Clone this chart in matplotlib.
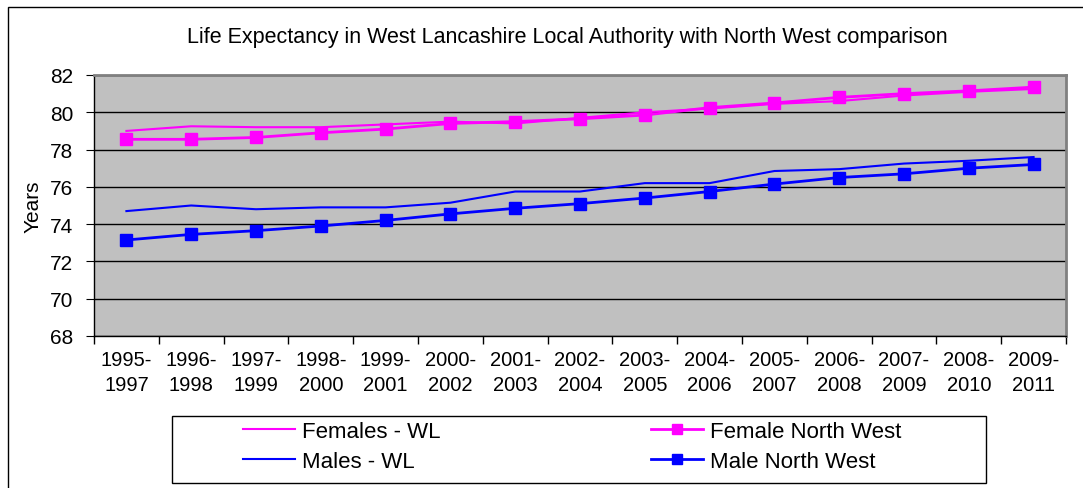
import matplotlib
matplotlib.use('Agg')
from matplotlib import pyplot as plt
from matplotlib.patches import Rectangle
import numpy as np

plt.rcParams['font.family'] = ['Liberation Sans', 'DejaVu Sans']

periods = ['1995-\n1997', '1996-\n1998', '1997-\n1999', '1998-\n2000', '1999-\n2001',
           '2000-\n2002', '2001-\n2003', '2002-\n2004', '2003-\n2005', '2004-\n2006',
           '2005-\n2007', '2006-\n2008', '2007-\n2009', '2008-\n2010', '2009-\n2011']

females_wl = [79.0, 79.25, 79.2, 79.2, 79.35, 79.5, 79.4, 79.7, 80.0, 80.2,
              80.45, 80.6, 80.9, 81.1, 81.25]
female_nw = [78.55, 78.55, 78.65, 78.9, 79.1, 79.4, 79.5, 79.65, 79.85, 80.25,
             80.5, 80.8, 81.0, 81.15, 81.35]
males_wl = [74.7, 75.0, 74.8, 74.9, 74.9, 75.15, 75.75, 75.75, 76.2, 76.2,
            76.85, 76.95, 77.25, 77.4, 77.6]
male_nw = [73.15, 73.45, 73.65, 73.9, 74.2, 74.55, 74.85, 75.1, 75.4, 75.75,
           76.15, 76.5, 76.7, 77.0, 77.2]

W, H = 1083, 489
fig = plt.figure(figsize=(W / 100, H / 100), dpi=100)
ax = fig.add_axes([94 / W, 1 - 337 / H, (1066 - 94) / W, (337 - 76) / H])
ax.set_facecolor('#C0C0C0')

x = np.arange(len(periods))
l1, = ax.plot(x, females_wl, color='#FF00FF', lw=1.5)
l2, = ax.plot(x, female_nw, color='#FF00FF', lw=2, marker='s', ms=9)
l3, = ax.plot(x, males_wl, color='#0000FF', lw=1.5)
l4, = ax.plot(x, male_nw, color='#0000FF', lw=2, marker='s', ms=9)

ax.set_ylim(68, 82)
ax.set_yticks(range(68, 83, 2))
ax.set_xlim(-0.5, len(periods) - 0.5)
ax.set_xticks(x)
ax.set_xticklabels(periods, fontsize=14.5, linespacing=1.4)
ax.set_xticks(np.arange(-0.5, len(periods)), minor=True)
ax.tick_params(axis='x', which='major', length=0, pad=10)
ax.tick_params(axis='x', which='minor', length=6, width=1, direction='out')
ax.tick_params(axis='y', labelsize=15, length=6, direction='out', pad=9)
ax.yaxis.grid(True, color='black', lw=1)
ax.set_axisbelow(True)
for s in ['top', 'right']:
    ax.spines[s].set_color('#808080')
    ax.spines[s].set_linewidth(2)
for s in ['left', 'bottom']:
    ax.spines[s].set_color('black')
    ax.spines[s].set_linewidth(1)

ax.set_ylabel('Years', fontsize=15, labelpad=5)
fig.text(567 / W, 1 - 37 / H, 'Life Expectancy in West Lancashire Local Authority with North West comparison',
         ha='center', va='center', fontsize=15.5)

# outer chart border
fig.patches.append(Rectangle((8 / W, -0.1), 1.2, 1 - 8 / H + 0.1, transform=fig.transFigure,
                             fill=False, edgecolor='black', lw=1))
# legend frame
fig.patches.append(Rectangle((172 / W, 1 - 484 / H), 814 / W, 67 / H, transform=fig.transFigure,
                             fill=False, edgecolor='black', lw=1))

leg = fig.legend([l1, l3, l2, l4], ['Females - WL', 'Males - WL', 'Female North West', 'Male North West'],
                 ncol=2, loc='center', bbox_to_anchor=(572 / W, 1 - 447.5 / H),
                 fontsize=16, frameon=False, handlelength=2.35, columnspacing=9.5,
                 borderaxespad=0, borderpad=0, labelspacing=0.4, handletextpad=0.3, markerscale=0.8)

fig.savefig('out.png', dpi=100)
